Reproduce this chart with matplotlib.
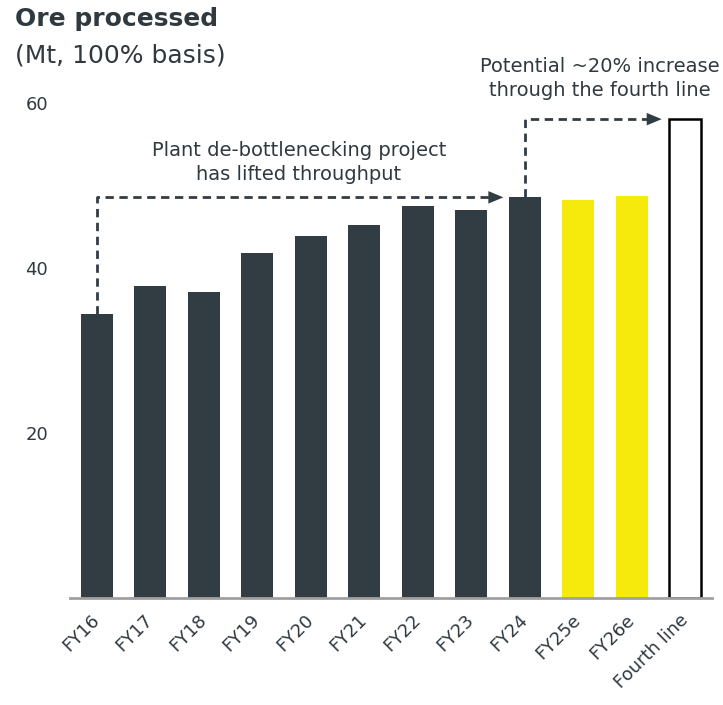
import matplotlib
matplotlib.use("Agg")
import matplotlib.pyplot as plt

categories = ["FY16", "FY17", "FY18", "FY19", "FY20", "FY21", "FY22", "FY23",
              "FY24", "FY25e", "FY26e", "Fourth line"]
values = [34.4, 37.8, 37.1, 41.8, 43.9, 45.2, 47.6, 47.1, 48.6, 48.3, 48.8, 58.1]
kinds = ["actual"] * 9 + ["estimate"] * 2 + ["potential"]
yticks = [20, 40, 60]

DARK = "#323c43"
YELLOW = "#f6ea0c"
TEXT = "#2f393f"

plt.rcParams["font.family"] = ["DejaVu Sans"]

fig = plt.figure(figsize=(7.23, 7.05), dpi=100)
ax = fig.add_axes([70 / 723, (705 - 597.5) / 705, (712 - 70) / 723, (597.5 - 103.5) / 705])

x = list(range(len(categories)))
for xi, v, k in zip(x, values, kinds):
    if k == "actual":
        ax.bar(xi, v, width=0.6, color=DARK, edgecolor="none", zorder=2)
    elif k == "estimate":
        ax.bar(xi, v, width=0.6, color=YELLOW, edgecolor="none", zorder=2)
    else:
        ax.bar(xi, v, width=0.6, color="white", edgecolor="black", linewidth=1.8, zorder=2)

ax.set_xlim(-0.5, 11.5)
ax.set_ylim(0, 60)
ax.set_yticks(yticks)
ax.set_yticklabels([str(t) for t in yticks], fontsize=13, color=TEXT, ha="left")
ax.tick_params(axis="y", length=0, pad=32)
ax.set_xticks(x)
ax.set_xticklabels(categories, rotation=45, ha="right", va="center", rotation_mode="anchor",
                   fontsize=13, color=TEXT)
ax.tick_params(axis="x", length=0, pad=14)
for s in ["left", "right", "top"]:
    ax.spines[s].set_visible(False)
ax.spines["bottom"].set_color("#a0a0a0")
ax.spines["bottom"].set_linewidth(2)
ax.spines["bottom"].set_zorder(3)

# dashed connector lines with arrow heads
dash = dict(color=DARK, lw=2.0, ls=(0, (3.0, 2.0)), zorder=4, clip_on=False)
head = dict(arrowstyle="-|>,head_length=1.08,head_width=0.45", color=DARK, lw=0,
            shrinkA=0, shrinkB=0)
# first: FY16 -> FY24
i0, i1 = 0, 8
ax.plot([i0, i0, i1 - 0.66], [values[i0], values[i1], values[i1]], **dash)
ax.annotate("", xy=(i1 - 0.40, values[i1]), xytext=(i1 - 0.70, values[i1]),
            arrowprops=head, annotation_clip=False)
# second: FY24 -> Fourth line
j0, j1 = 8, 11
ax.plot([j0, j0, j1 - 0.70], [values[j0], values[j1], values[j1]], **dash)
ax.annotate("", xy=(j1 - 0.44, values[j1]), xytext=(j1 - 0.74, values[j1]),
            arrowprops=head, annotation_clip=False)

ax.text(3.78, 52.8, "Plant de-bottlenecking project\nhas lifted throughput",
        ha="center", va="center", fontsize=14, color=TEXT, linespacing=1.35)
ax.text(9.4, 63.0, "Potential ~20% increase\nthrough the fourth line",
        ha="center", va="center", fontsize=14, color=TEXT, linespacing=1.35, clip_on=False)

fig.text(15 / 723, 1 - 19 / 705, "Ore processed", fontsize=18, fontweight="bold",
         color=TEXT, ha="left", va="center")
fig.text(15 / 723, 1 - 55 / 705, "(Mt, 100% basis)", fontsize=18,
         color=TEXT, ha="left", va="center")

fig.savefig("out.png", dpi=100)
